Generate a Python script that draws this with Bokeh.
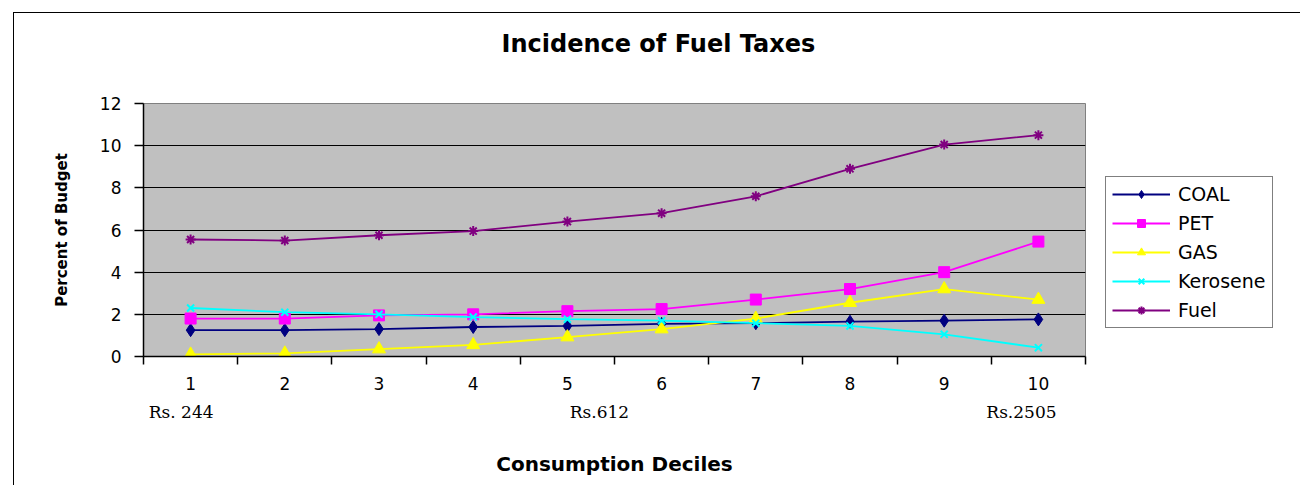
from bokeh.plotting import figure
from bokeh.models import (Legend, LegendItem, FixedTicker, LinearAxis, Title)
from bokeh.embed import file_html
from bokeh.resources import INLINE

# ---- data ----
deciles = [1, 2, 3, 4, 5, 6, 7, 8, 9, 10]
coal = [1.25, 1.25, 1.3, 1.4, 1.45, 1.55, 1.58, 1.65, 1.7, 1.76]
pet = [1.8, 1.8, 1.95, 2.0, 2.15, 2.25, 2.7, 3.2, 4.0, 5.45]
gas = [0.1, 0.15, 0.35, 0.55, 0.92, 1.3, 1.8, 2.55, 3.2, 2.7]
kerosene = [2.3, 2.1, 2.0, 1.87, 1.77, 1.7, 1.58, 1.45, 1.05, 0.42]
fuel = [5.55, 5.5, 5.75, 5.95, 6.4, 6.8, 7.6, 8.9, 10.05, 10.5]
y_ticks = [0, 2, 4, 6, 8, 10, 12]
rs_labels = ["Rs. 244", "Rs.612", "Rs.2505"]
rs_pos = [0.9, 5.34, 9.82]

SANS = "DejaVu Sans"

p = figure(frame_width=942, frame_height=253, x_range=(0.5, 10.5), y_range=(0, 12),
           output_backend="svg", toolbar_location=None,
           min_border_left=129, min_border_right=0,
           min_border_top=90, min_border_bottom=129)
p.styles = {"border-left": "1px solid black", "border-top": "1px solid black",
            "margin-left": "13px", "margin-top": "12px"}

p.background_fill_color = "#C0C0C0"
p.border_fill_color = "white"
p.outline_line_color = "#808080"
p.outline_line_width = 1

# title: a spacer panel next to the frame, then the main title above it
p.title.text = ""
spacer = Title(text=" ", text_font=SANS, text_font_size="14px", standoff=18)
p.add_layout(spacer, "above")
main_title = Title(text="Incidence of Fuel Taxes", align="left", offset=358,
                   standoff=20, text_font=SANS, text_font_style="bold",
                   text_font_size="24px", text_color="black")
p.add_layout(main_title, "above")

# grid
p.xgrid.visible = False
p.ygrid.ticker = FixedTicker(ticks=[2, 4, 6, 8, 10])
p.ygrid.grid_line_color = "black"
p.ygrid.grid_line_width = 1.2

# x axis: labels at centres, ticks at boundaries (minor ticks)
xa = p.xaxis[0]
xa.ticker = FixedTicker(ticks=deciles, minor_ticks=[d - 0.5 for d in deciles] + [10.5])
xa.major_tick_out = 0
xa.major_tick_in = 0
xa.minor_tick_out = 8
xa.minor_tick_in = 0
xa.minor_tick_line_color = "black"
xa.minor_tick_line_width = 1.5
xa.axis_line_color = "black"
xa.axis_line_width = 1.5
xa.major_label_standoff = 12
xa.major_label_text_font = SANS
xa.major_label_text_font_size = "17px"
xa.major_label_text_color = "black"

# second row of x labels (rupee levels) + axis title
xa2 = LinearAxis(ticker=FixedTicker(ticks=rs_pos, minor_ticks=[]),
                 major_label_overrides={k: v for k, v in zip(rs_pos, rs_labels)})
xa2.axis_line_color = None
xa2.major_tick_line_color = None
xa2.major_tick_out = 0
xa2.major_tick_in = 0
xa2.major_label_standoff = 9
xa2.major_label_text_font = "DejaVu Serif"
xa2.major_label_text_font_size = "17px"
xa2.major_label_text_color = "black"
xa2.axis_label = "Consumption Deciles"
xa2.axis_label_standoff = 27
xa2.axis_label_text_font = SANS
xa2.axis_label_text_font_style = "bold"
xa2.axis_label_text_font_size = "20px"
xa2.axis_label_text_color = "black"
p.add_layout(xa2, "below")

ya = p.yaxis[0]
ya.ticker = FixedTicker(ticks=y_ticks, minor_ticks=[])
ya.major_tick_out = 9
ya.major_tick_in = 0
ya.major_tick_line_color = "black"
ya.major_tick_line_width = 1.5
ya.axis_line_color = "black"
ya.axis_line_width = 1.5
ya.major_label_standoff = 13
ya.major_label_text_font = SANS
ya.major_label_text_font_size = "17px"
ya.major_label_text_color = "black"
ya.axis_label = "Percent of Budget"
ya.axis_label_standoff = 26
ya.axis_label_text_font = SANS
ya.axis_label_text_font_style = "bold"
ya.axis_label_text_font_size = "15px"
ya.axis_label_text_color = "black"

series = [
    ("COAL", coal, "#000080", "diamond", 13),
    ("PET", pet, "#FF00FF", "square", 11),
    ("GAS", gas, "#FFFF00", "triangle", 13),
    ("Kerosene", kerosene, "#00FFFF", "x", 10),
    ("Fuel", fuel, "#800080", "asterisk", 10),
]
items = []
for name, vals, color, marker, size in series:
    ln = p.line(deciles, vals, line_color=color, line_width=1.8)
    sc = p.scatter(deciles, vals, marker=marker, size=size,
                   fill_color=color, line_color=color,
                   line_width=2 if marker in ("x", "asterisk") else 1)
    items.append(LegendItem(label=name, renderers=[ln, sc]))

legend = Legend(items=items, location=(20, 28), orientation="vertical",
                label_text_font=SANS, label_text_font_size="19px",
                label_text_color="black", glyph_width=58, glyph_height=20,
                label_height=20, label_standoff=8, spacing=7, padding=6, margin=0,
                border_line_color="black", border_line_width=1.2,
                background_fill_color="white", background_fill_alpha=1)
p.add_layout(legend, "right")

open("out.html", "w").write(file_html(p, INLINE))
